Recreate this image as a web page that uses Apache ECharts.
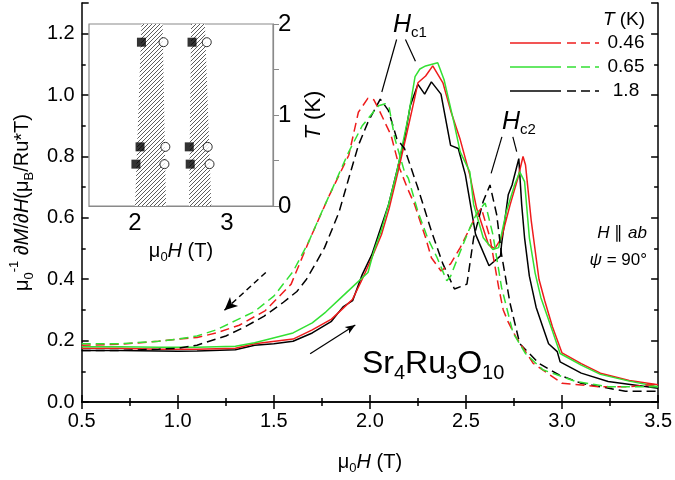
<!DOCTYPE html>
<html><head><meta charset="utf-8">
<script src="https://cdn.jsdelivr.net/npm/echarts@6/dist/echarts.min.js"></script>
<style>html,body{margin:0;padding:0;background:#fff}#c{width:675px;height:480px}</style>
</head><body><div id="c"></div>
<script>
// ---- main panel data: [mu0H (T), dM/dH] ----
const red046Up = [[0.5,0.175],[0.7,0.175],[0.9,0.172],[1.1,0.172],[1.3,0.175],[1.4,0.19],[1.6,0.205],[1.7,0.235],[1.8,0.27],[1.86,0.305],[1.91,0.335],[1.96,0.40],[2.01,0.47],[2.06,0.545],[2.1,0.63],[2.15,0.76],[2.19,0.87],[2.233,0.99],[2.25,1.04],[2.29,1.062],[2.327,1.095],[2.38,1.04],[2.42,0.95],[2.47,0.855],[2.52,0.74],[2.555,0.632],[2.617,0.513],[2.65,0.50],[2.685,0.535],[2.73,0.643],[2.77,0.729],[2.797,0.80],[2.81,0.772],[2.84,0.589],[2.88,0.40],[2.91,0.33],[2.95,0.245],[3.0,0.16],[3.1,0.125],[3.2,0.094],[3.35,0.07],[3.5,0.056]];
const green065Up = [[0.5,0.18],[0.7,0.18],[0.9,0.178],[1.1,0.178],[1.3,0.182],[1.4,0.193],[1.6,0.225],[1.7,0.258],[1.77,0.293],[1.85,0.34],[1.925,0.384],[1.99,0.422],[2.02,0.49],[2.06,0.56],[2.1,0.65],[2.14,0.75],[2.2,0.93],[2.235,1.06],[2.26,1.085],[2.29,1.095],[2.353,1.105],[2.386,1.05],[2.437,0.912],[2.47,0.815],[2.52,0.75],[2.54,0.643],[2.59,0.535],[2.64,0.497],[2.67,0.503],[2.71,0.62],[2.753,0.707],[2.78,0.75],[2.805,0.718],[2.83,0.535],[2.86,0.42],[2.89,0.34],[2.94,0.25],[2.99,0.158],[3.1,0.12],[3.2,0.09],[3.35,0.068],[3.5,0.05]];
const black18Up = [[0.5,0.168],[0.7,0.168],[0.9,0.166],[1.0,0.165],[1.1,0.166],[1.3,0.17],[1.4,0.185],[1.5,0.19],[1.6,0.198],[1.7,0.225],[1.8,0.263],[1.86,0.31],[1.91,0.33],[1.96,0.415],[2.01,0.48],[2.045,0.546],[2.097,0.643],[2.148,0.772],[2.18,0.858],[2.21,0.965],[2.25,1.035],[2.285,1.003],[2.32,1.043],[2.37,1.003],[2.42,0.836],[2.46,0.826],[2.497,0.74],[2.55,0.546],[2.62,0.444],[2.68,0.476],[2.685,0.513],[2.72,0.675],[2.74,0.707],[2.775,0.793],[2.79,0.643],[2.805,0.535],[2.83,0.41],[2.865,0.309],[2.9,0.244],[2.93,0.19],[2.975,0.164],[2.99,0.131],[3.1,0.094],[3.24,0.067],[3.5,0.045]];
const red046Down = [[0.5,0.185],[0.7,0.188],[0.9,0.198],[1.0,0.205],[1.1,0.21],[1.2,0.225],[1.32,0.25],[1.456,0.298],[1.59,0.384],[1.68,0.52],[1.79,0.675],[1.89,0.804],[1.94,0.944],[1.99,0.99],[2.02,0.985],[2.045,0.955],[2.11,0.869],[2.155,0.761],[2.195,0.697],[2.233,0.643],[2.29,0.535],[2.32,0.47],[2.37,0.427],[2.42,0.45],[2.47,0.503],[2.555,0.61],[2.58,0.632],[2.625,0.535],[2.67,0.374],[2.694,0.30],[2.72,0.26],[2.76,0.212],[2.85,0.126],[3.0,0.061],[3.19,0.05],[3.35,0.05],[3.5,0.058]];
const green065Down = [[0.5,0.19],[0.7,0.19],[0.9,0.198],[1.0,0.205],[1.1,0.215],[1.2,0.235],[1.3,0.265],[1.4,0.295],[1.5,0.345],[1.6,0.425],[1.68,0.52],[1.75,0.62],[1.806,0.697],[1.89,0.815],[1.96,0.90],[2.045,0.965],[2.08,0.972],[2.1,0.96],[2.13,0.858],[2.18,0.75],[2.2,0.729],[2.25,0.62],[2.30,0.535],[2.35,0.47],[2.40,0.395],[2.42,0.41],[2.47,0.49],[2.52,0.567],[2.56,0.62],[2.6,0.648],[2.64,0.546],[2.685,0.374],[2.745,0.225],[2.81,0.158],[2.9,0.105],[3.07,0.067],[3.24,0.05],[3.5,0.05]];
const black18Down = [[0.5,0.168],[0.7,0.168],[0.9,0.172],[1.0,0.175],[1.1,0.185],[1.25,0.215],[1.35,0.245],[1.45,0.28],[1.55,0.325],[1.62,0.36],[1.67,0.40],[1.72,0.454],[1.764,0.503],[1.806,0.567],[1.84,0.62],[1.89,0.729],[1.94,0.836],[1.99,0.912],[2.054,0.987],[2.096,0.95],[2.14,0.858],[2.18,0.826],[2.25,0.697],[2.32,0.557],[2.38,0.45],[2.44,0.368],[2.505,0.384],[2.54,0.535],[2.59,0.654],[2.625,0.707],[2.66,0.61],[2.685,0.481],[2.73,0.32],[2.78,0.19],[2.88,0.126],[2.985,0.088],[3.1,0.061],[3.33,0.035],[3.5,0.035]];

// ---- annotation anchors (data coordinates) ----
const hc1Pointer = [[[2.062,1.01],[2.139,1.181]],[[2.185,1.181],[2.237,1.11]]];
const hc2Pointer = [[[2.631,0.745],[2.687,0.864]],[[2.744,0.864],[2.764,0.816]]];
const downArrow = [[1.458,0.422],[1.243,0.299]];
const upArrow = [[1.689,0.157],[1.924,0.251]];

// ---- inset data: [mu0H (T), T (K)] ----
const hc1Square = [[2.01,0.46],[2.055,0.65],[2.07,1.8]];
const hc1Circle = [[2.32,0.46],[2.33,0.65],[2.31,1.8]];
const hc2Square = [[2.60,0.46],[2.59,0.65],[2.62,1.8]];
const hc2Circle = [[2.81,0.46],[2.79,0.65],[2.78,1.8]];
const band1 = [[2.0,0],[2.07,2],[2.30,2],[2.337,0]];
const band2 = [[2.587,0],[2.61,2],[2.76,2],[2.83,0]];
const bands = [band1, band2];

const legendTemps = ['0.46','0.65','1.8'];
const colors = {red:'#ee1c1c', green:'#33e033', black:'#000000'};

const FONT = 'Liberation Sans, Arial, sans-serif';
const chart = echarts.init(document.getElementById('c'), null, {renderer:'canvas'});

// hatch pattern
const pc = document.createElement('canvas');
pc.width = 4; pc.height = 4;
const pctx = pc.getContext('2d');
pctx.fillStyle = '#ffffff'; pctx.fillRect(0,0,4,4);
pctx.strokeStyle = '#4a4a4a'; pctx.lineWidth = 0.9;
pctx.beginPath();
pctx.moveTo(-1,5); pctx.lineTo(5,-1);
pctx.moveTo(-1,1); pctx.lineTo(1,-1);
pctx.moveTo(3,5); pctx.lineTo(5,3);
pctx.stroke();

const axisBlack = {lineStyle:{color:'#000', width:1.5}};
function mkLine(name, data, color, dashed){
  return {name, type:'line', data, xAxisIndex:0, yAxisIndex:0, symbol:'none', silent:true, animation:false,
    lineStyle:{color, width:1.5, type: dashed ? [9,5] : 'solid'}, z: 3};
}
function seg(p, q, extra){ return [Object.assign({coord:p}, extra && extra[0] || {}), Object.assign({coord:q}, extra && extra[1] || {})]; }

const mlData = [];
hc1Pointer.concat(hc2Pointer).forEach(s => mlData.push(seg(s[0], s[1], [{symbol:'none'},{symbol:'none'}])));
mlData.push([{coord:downArrow[0], symbol:'none', lineStyle:{type:[6,4], width:1.5, color:'#000'}},{coord:downArrow[1], symbol:'arrow', symbolSize:[9,13]}]);
mlData.push([{coord:upArrow[0], symbol:'none', lineStyle:{type:'solid', width:1.2, color:'#000'}},{coord:upArrow[1], symbol:'arrow', symbolSize:[6,10]}]);

const option = {
  backgroundColor:'#fff',
  textStyle:{fontFamily:FONT},
  grid:[
    {left:75, right:15, top:3, bottom:74, containLabel:false},
    {left:89, top:24, width:184, height:182, show:true, backgroundColor:'#fff', borderColor:'#8a8a8a', borderWidth:1.2, z:5}
  ],
  xAxis:[
    {type:'value', gridIndex:0, min:0.5, max:3.5, interval:0.5, position:'bottom',
     axisLine:axisBlack, axisTick:{inside:true, length:7, lineStyle:{color:'#000', width:1.5}},
     minorTick:{show:true, splitNumber:2, length:4, lineStyle:{color:'#000', width:1.5}},
     splitLine:{show:false},
     axisLabel:{color:'#000', fontSize:20, margin:9, fontFamily:FONT, formatter:v=>v.toFixed(1)},
     name:'{m|μ}{s|0}{i|H}{m| (T)}', nameLocation:'middle', nameGap:47,
     nameTextStyle:{rich:{m:{fontSize:20, fontFamily:FONT, color:'#000', lineHeight:26}, i:{fontSize:20, fontStyle:'italic', fontFamily:FONT, color:'#000', lineHeight:26}, s:{fontSize:13, fontFamily:FONT, color:'#000', lineHeight:14, verticalAlign:'bottom'}}}},
    {type:'value', gridIndex:0, min:0.5, max:3.5, interval:0.5, position:'top',
     axisLine:axisBlack, axisTick:{inside:true, length:7, lineStyle:{color:'#000', width:1.5}},
     minorTick:{show:true, splitNumber:2, length:4, lineStyle:{color:'#000', width:1.5}},
     splitLine:{show:false}, axisLabel:{show:false}},
    {type:'value', gridIndex:1, min:1.5, max:3.5, interval:0.5, position:'bottom',
     axisLine:{lineStyle:{color:'#8a8a8a', width:1.2}}, axisTick:{inside:true, length:3, lineStyle:{color:'#8a8a8a'}},
     splitLine:{show:false},
     axisLabel:{color:'#000', fontSize:24, margin:5, fontFamily:FONT, formatter:v=>(v===2||v===3)?String(v):''},
     name:'{m|μ}{s|0}{i|H}{m| (T)}', nameLocation:'middle', nameGap:32,
     nameTextStyle:{rich:{m:{fontSize:20, fontFamily:FONT, color:'#000', lineHeight:26}, i:{fontSize:20, fontStyle:'italic', fontFamily:FONT, color:'#000', lineHeight:26}, s:{fontSize:13, fontFamily:FONT, color:'#000', lineHeight:14, verticalAlign:'bottom'}}}}
  ],
  yAxis:[
    {type:'value', gridIndex:0, min:0, max:1.3, interval:0.2, position:'left',
     axisLine:axisBlack, axisTick:{inside:true, length:7, lineStyle:{color:'#000', width:1.5}},
     minorTick:{show:true, splitNumber:2, length:4, lineStyle:{color:'#000', width:1.5}},
     splitLine:{show:false},
     axisLabel:{color:'#000', fontSize:20, margin:7, fontFamily:FONT, showMaxLabel:false, formatter:v=>v.toFixed(1)},
     name:'{m|μ}{s|0}{p|-1}{m| ∂}{i|M}{m|/∂}{i|H}{m|(μ}{s|B}{m|/Ru*T)}', nameLocation:'middle', nameGap:44, nameRotate:90,
     nameTextStyle:{rich:{m:{fontSize:20, fontFamily:FONT, color:'#000', lineHeight:28}, i:{fontSize:20, fontStyle:'italic', fontFamily:FONT, color:'#000', lineHeight:28}, s:{fontSize:13, fontFamily:FONT, color:'#000', lineHeight:14, verticalAlign:'bottom'}, p:{fontSize:13, fontFamily:FONT, color:'#000', lineHeight:14, verticalAlign:'top'}}}},
    {type:'value', gridIndex:0, min:0, max:1.3, interval:0.2, position:'right',
     axisLine:axisBlack, axisTick:{inside:true, length:7, lineStyle:{color:'#000', width:1.5}},
     minorTick:{show:true, splitNumber:2, length:4, lineStyle:{color:'#000', width:1.5}},
     splitLine:{show:false}, axisLabel:{show:false}},
    {type:'value', gridIndex:1, min:0, max:2, interval:0.5, position:'left',
     axisLine:{show:false}, axisTick:{show:false}, splitLine:{show:false}, axisLabel:{show:false}},
    {type:'value', gridIndex:1, min:0, max:2, interval:0.5, position:'right',
     axisLine:{lineStyle:{color:'#8a8a8a', width:1.2}}, axisTick:{inside:false, length:6, lineStyle:{color:'#8a8a8a'}},
     splitLine:{show:false},
     axisLabel:{color:'#000', fontSize:24, margin:5, fontFamily:FONT, formatter:v=>(v%1===0)?String(v):''},
     name:'{i|T}{m| (K)}', nameLocation:'middle', nameGap:30, nameRotate:90,
     nameTextStyle:{rich:{m:{fontSize:22, fontFamily:FONT, color:'#000'}, i:{fontSize:22, fontStyle:'italic', fontFamily:FONT, color:'#000'}}}}
  ],
  series:[
    mkLine('1.8 up', black18Up, colors.black, false),
    mkLine('0.46 up', red046Up, colors.red, false),
    mkLine('0.65 up', green065Up, colors.green, false),
    mkLine('1.8 down', black18Down, colors.black, true),
    mkLine('0.46 down', red046Down, colors.red, true),
    mkLine('0.65 down', green065Down, colors.green, true),
    {name:'annot', type:'line', xAxisIndex:0, yAxisIndex:0, data:[], silent:true, animation:false,
     markLine:{silent:true, animation:false, symbol:'none', label:{show:false},
       lineStyle:{color:'#000', width:1.2, type:'solid'}, data:mlData}},
    {name:'bands', type:'custom', xAxisIndex:2, yAxisIndex:3, silent:true, animation:false, z:6,
     data: bands.map((b,i)=>[i]),
     renderItem:(params, api)=>{
       const pts = bands[params.dataIndex].map(p=>api.coord(p));
       return {type:'polygon', shape:{points:pts}, style:{fill:{image:pc, repeat:'repeat'}, stroke:null}};
     }},
    {name:'sq', type:'scatter', xAxisIndex:2, yAxisIndex:3, data:hc1Square.concat(hc2Square), symbol:'rect', symbolSize:9,
     itemStyle:{color:'#000'}, silent:true, animation:false, z:7},
    {name:'ci', type:'scatter', xAxisIndex:2, yAxisIndex:3, data:hc1Circle.concat(hc2Circle), symbol:'circle', symbolSize:9,
     itemStyle:{color:'#fff', borderColor:'#000', borderWidth:1}, silent:true, animation:false, z:7}
  ],
  graphic:[
    {type:'text', x:624, y:20, style:{text:'{i|T}{m| (K)}', rich:{i:{fontSize:19, fontStyle:'italic', fontFamily:FONT, fill:'#000'}, m:{fontSize:19, fontFamily:FONT, fill:'#000'}}, align:'center', verticalAlign:'middle'}},
    ...legendTemps.map((t,i)=>{
      const c = [colors.red, colors.green, colors.black][i];
      const y = 43 + i*24;
      return {type:'group', children:[
        {type:'line', shape:{x1:510, y1:y, x2:561, y2:y}, style:{stroke:c, lineWidth:1.5}},
        {type:'line', shape:{x1:567, y1:y, x2:599, y2:y}, style:{stroke:c, lineWidth:1.5, lineDash:[9,5]}},
        {type:'text', x:626, y:y, style:{text:t, fontSize:19, fontFamily:FONT, fill:'#000', align:'center', verticalAlign:'middle'}}
      ]};
    }),
    {type:'text', x:393, y:25, style:{text:'{i|H}{s|c1}', rich:{i:{fontSize:25, fontStyle:'italic', fontFamily:FONT, fill:'#000', lineHeight:30}, s:{fontSize:15, fontFamily:FONT, fill:'#000', lineHeight:16, verticalAlign:'bottom'}}, align:'left', verticalAlign:'middle'}},
    {type:'text', x:502, y:122, style:{text:'{i|H}{s|c2}', rich:{i:{fontSize:25, fontStyle:'italic', fontFamily:FONT, fill:'#000', lineHeight:30}, s:{fontSize:15, fontFamily:FONT, fill:'#000', lineHeight:16, verticalAlign:'bottom'}}, align:'left', verticalAlign:'middle'}},
    {type:'text', x:647, y:233, style:{text:'{i|H}{m| ∥ }{i|ab}', rich:{i:{fontSize:17, fontStyle:'italic', fontFamily:FONT, fill:'#000'}, m:{fontSize:17, fontFamily:FONT, fill:'#000'}}, align:'right', verticalAlign:'middle'}},
    {type:'text', x:647, y:260, style:{text:'{i|ψ}{m| = 90°}', rich:{i:{fontSize:17, fontStyle:'italic', fontFamily:FONT, fill:'#000'}, m:{fontSize:17, fontFamily:FONT, fill:'#000'}}, align:'right', verticalAlign:'middle'}},
    {type:'text', x:362, y:364, style:{text:'{b|Sr}{s|4}{b|Ru}{s|3}{b|O}{s|10}', rich:{b:{fontSize:32, fontFamily:FONT, fill:'#000', lineHeight:38}, s:{fontSize:20, fontFamily:FONT, fill:'#000', lineHeight:20, verticalAlign:'bottom'}}, align:'left', verticalAlign:'middle'}}
  ]
};
chart.setOption(option);
</script></body></html>
